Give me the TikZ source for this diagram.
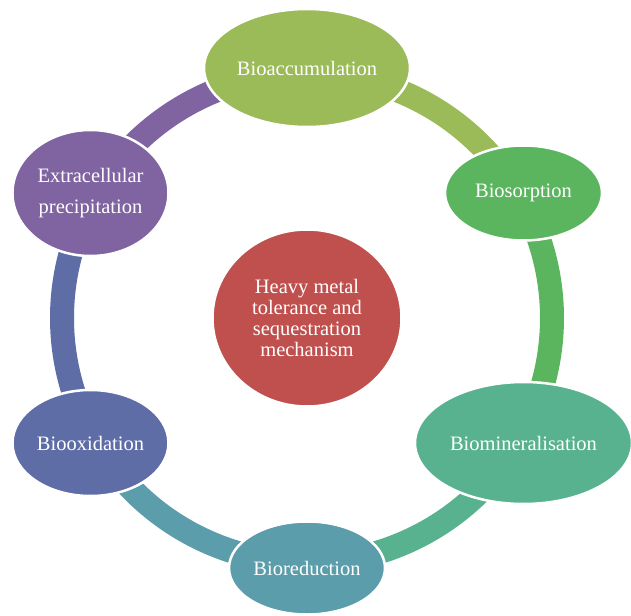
\documentclass[tikz,border=0pt]{standalone}
\usepackage{fontspec}
\setmainfont{Liberation Serif}
\usetikzlibrary{shapes.geometric,backgrounds}
\definecolor{coreRed}{HTML}{C0504D}
\definecolor{accGreen}{HTML}{9BBB59}
\definecolor{sorpGreen}{HTML}{5AB55E}
\definecolor{minTeal}{HTML}{58B290}
\definecolor{redBlue}{HTML}{5B9DAB}
\definecolor{oxiBlue}{HTML}{5F6DA7}
\definecolor{extPurple}{HTML}{7F64A1}
\tikzset{
  stage/.style={ellipse, fill=#1, draw=white, line width=2.5pt, text=white,
    inner sep=0pt, align=center, font=\fontsize{20.5}{31}\selectfont},
  ringpart/.style={line width=24pt, draw=#1},
}

\begin{document}
\begin{tikzpicture}[x=1pt,y=1pt]
    \useasboundingbox (-307,-297) rectangle (324,318);
    % centre
    \node[stage=coreRed, minimum width=189pt, minimum height=177pt,
          font=\fontsize{20.5}{21}\selectfont] (core) at (0,0)
          {Heavy metal\\tolerance and\\sequestration\\mechanism};
    % the six processes round the cycle
    \node[stage=accGreen, minimum width=206pt, minimum height=118pt] (acc) at (90:250) {Bioaccumulation};
    \node[stage=sorpGreen, minimum width=157pt, minimum height=95pt] (sorp) at (30:250) {Biosorption};
    \node[stage=minTeal, minimum width=217pt, minimum height=122pt] (mineral) at (-30:250) {Biomineralisation};
    \node[stage=redBlue, minimum width=156pt, minimum height=93pt] (reduct) at (-90:250) {Bioreduction};
    \node[stage=oxiBlue, minimum width=156pt, minimum height=106pt] (oxid) at (210:250) {Biooxidation};
    \node[stage=extPurple, minimum width=156pt, minimum height=126pt] (extra) at (150:250) {Extracellular\\precipitation};
    % ring behind the nodes
    \coordinate (rAcc) at (90:245);
    \coordinate (rSorp) at (30:245);
    \coordinate (rMin) at (-30:245);
    \coordinate (rRed) at (-90:245);
    \coordinate (rOxi) at (210:245);
    \coordinate (rExt) at (150:245);
    \begin{scope}[on background layer]
      \draw[ringpart=accGreen] (rAcc) arc[start angle=90, end angle=30, radius=245];
      \draw[ringpart=sorpGreen] (rSorp) arc[start angle=30, end angle=-30, radius=245];
      \draw[ringpart=minTeal] (rMin) arc[start angle=-30, end angle=-90, radius=245];
      \draw[ringpart=redBlue] (rRed) arc[start angle=-90, end angle=-150, radius=245];
      \draw[ringpart=oxiBlue] (rOxi) arc[start angle=210, end angle=150, radius=245];
      \draw[ringpart=extPurple] (rExt) arc[start angle=150, end angle=90, radius=245];
    \end{scope}
\end{tikzpicture}
\end{document}
